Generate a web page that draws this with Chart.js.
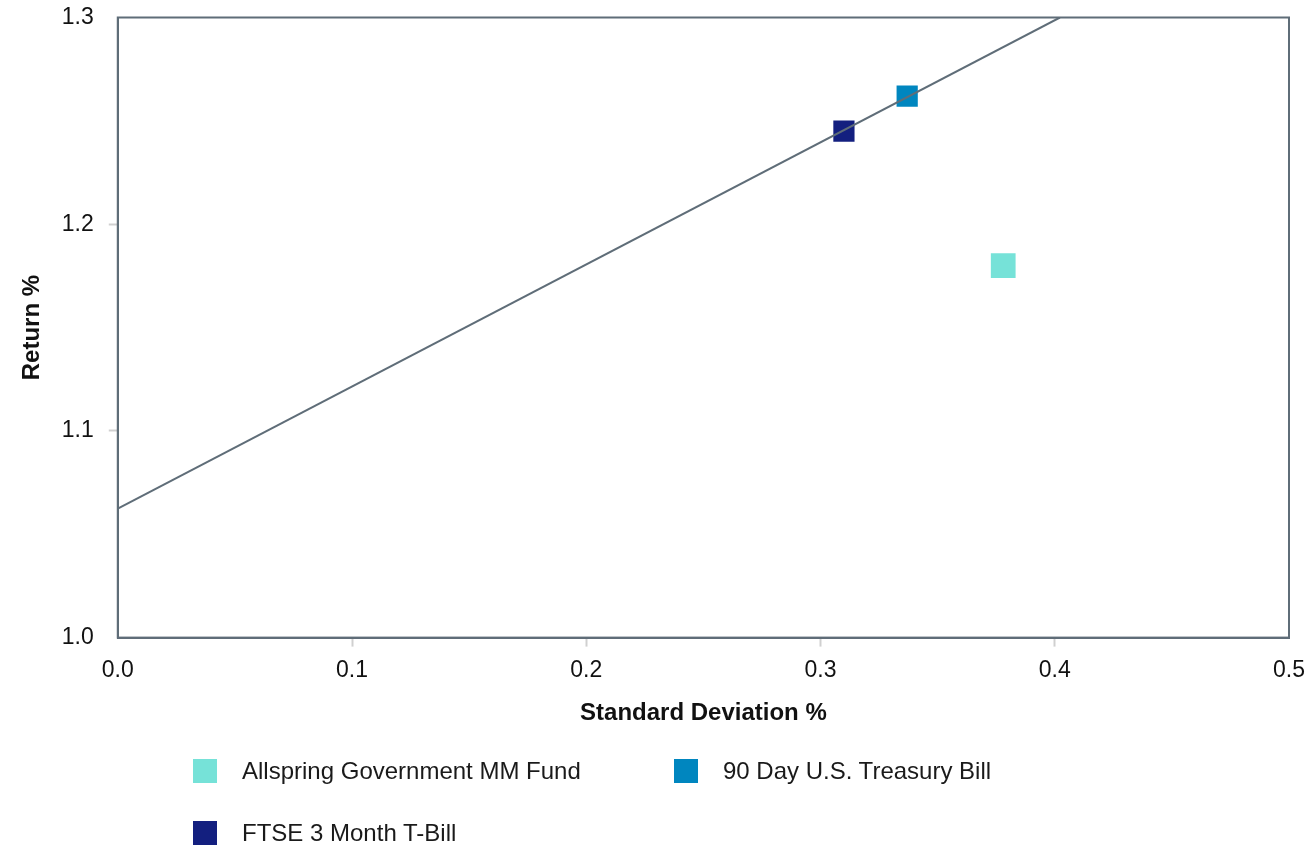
<!DOCTYPE html>
<html>
<head>
<meta charset="utf-8">
<script src="https://cdn.jsdelivr.net/npm/chart.js@4"></script>
<style>
  body { margin: 0; background: #fff; font-family: "Liberation Sans", Arial, sans-serif; }
  #wrap { position: relative; width: 1309px; height: 849px; }
  .leg { position: absolute; display: flex; align-items: center; font-size: 24px; color: #1a1a1a; white-space: nowrap; }
  .leg span.box { display: inline-block; width: 24px; height: 24px; margin-right: 25px; }
</style>
</head>
<body>
<div id="wrap">
  <canvas id="rr-chart" width="1309" height="849"></canvas>
  <div id="legend"></div>
</div>
<script>
// risk / return values
const seriesNames = ["Allspring Government MM Fund", "90 Day U.S. Treasury Bill", "FTSE 3 Month T-Bill"];
const stdDev = [0.378, 0.337, 0.310];
const returns = [1.180, 1.262, 1.245];
const colors = ["#76e2d8", "#0086bf", "#131f7f"];
const markerSizes = [17.5, 15, 15];

// market line endpoints
const lineX = [0.0, 0.4022];
const lineY = [1.0624, 1.3];

const xTicks = [0.0, 0.1, 0.2, 0.3, 0.4, 0.5];
const yTicks = [1.0, 1.1, 1.2, 1.3];

const font = { family: "'Liberation Sans', Arial, sans-serif", size: 23 };
const titleFont = { family: "'Liberation Sans', Arial, sans-serif", size: 24, weight: "bold" };
const axisColor = "#5f6d78";

// only the inner ticks get a small grey mark
const tickColor = (ctx) => {
  const n = ctx.scale.ticks.length;
  return ctx.index === 0 || ctx.index === n - 1 ? "rgba(0,0,0,0)" : "#d0d0d0";
};

// draw the box around the plot area
const frame = {
  id: "frame",
  afterDatasetsDraw(chart) {
    const { ctx, chartArea: a } = chart;
    ctx.save();
    ctx.strokeStyle = axisColor;
    ctx.lineWidth = 2;
    ctx.strokeRect(a.left, a.top, a.right - a.left, a.bottom - a.top);
    ctx.restore();
  },
};

const datasets = [
  {
    type: "line",
    label: "line",
    data: lineX.map((x, i) => ({ x: x, y: lineY[i] })),
    borderColor: axisColor,
    borderWidth: 2,
    pointRadius: 0,
    order: 0,
  },
];
seriesNames.forEach((name, i) => {
  datasets.push({
    type: "scatter",
    label: name,
    data: [{ x: stdDev[i], y: returns[i] }],
    pointStyle: "rect",
    pointRadius: markerSizes[i],
    pointHoverRadius: markerSizes[i],
    backgroundColor: colors[i],
    borderColor: colors[i],
    borderWidth: 0,
    order: 1,
  });
});

new Chart(document.getElementById("rr-chart"), {
  data: { datasets: datasets },
  plugins: [frame],
  options: {
    responsive: false,
    animation: false,
    layout: { padding: { top: 17, right: 20, bottom: 121, left: 18 } },
    plugins: { legend: { display: false }, tooltip: { enabled: false } },
    scales: {
      x: {
        type: "linear",
        min: 0,
        max: 0.5,
        afterBuildTicks: (s) => { s.ticks = xTicks.map((v) => ({ value: v })); },
        afterFit: (s) => { s.paddingLeft = 0; s.paddingRight = 0; },
        grid: { drawOnChartArea: false, tickLength: 9, color: tickColor, tickWidth: 2 },
        border: { color: axisColor, width: 2 },
        ticks: { font: font, color: "#111", padding: 10, callback: (v) => v.toFixed(1) },
        title: { display: true, text: "Standard Deviation %", font: titleFont, color: "#111", padding: { top: 5, bottom: 0 } },
      },
      y: {
        type: "linear",
        min: 1.0,
        max: 1.3,
        afterBuildTicks: (s) => { s.ticks = yTicks.map((v) => ({ value: v })); },
        afterFit: (s) => { s.paddingTop = 0; s.paddingBottom = 0; },
        grid: { drawOnChartArea: false, tickLength: 9, color: tickColor, tickWidth: 2 },
        border: { color: axisColor, width: 2 },
        ticks: { font: font, color: "#111", padding: 15, callback: (v) => v.toFixed(1) },
        title: { display: true, text: "Return %", font: titleFont, color: "#111", padding: { top: 0, bottom: 0 } },
      },
    },
  },
});

// legend laid out in two columns like the original
const legendPos = [[193, 771], [674, 771], [193, 833]];
const legend = document.getElementById("legend");
seriesNames.forEach((name, i) => {
  const item = document.createElement("div");
  item.className = "leg";
  item.style.left = legendPos[i][0] + "px";
  item.style.top = (legendPos[i][1] - 14) + "px";
  item.innerHTML = '<span class="box" style="background:' + colors[i] + '"></span>' + name;
  legend.appendChild(item);
});
</script>
</body>
</html>
